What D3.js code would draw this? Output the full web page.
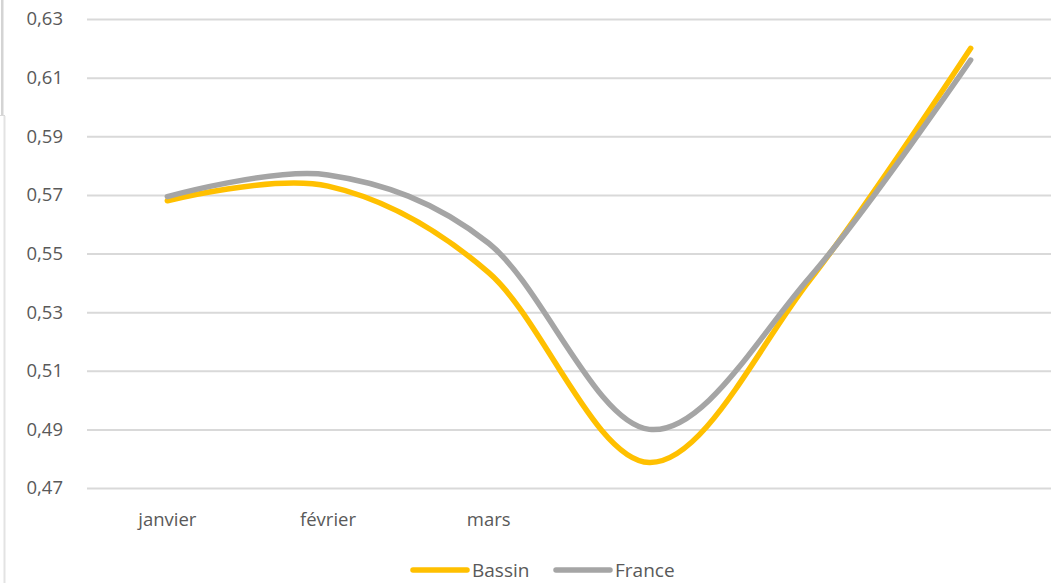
<!DOCTYPE html>
<html>
<head>
<meta charset="utf-8">
<script src="https://cdn.jsdelivr.net/npm/d3@7"></script>
<style>
  body { margin: 0; background: #fff; }
  svg { display: block; font-family: "Open Sans", sans-serif; }
  .tick text { fill: #595959; font-size: 18.5px; font-family: "Open Sans", sans-serif; }
</style>
</head>
<body>
<svg></svg>
<script>
// data
var tickLabels = ["janvier", "février", "mars", "", "", ""];
var bassin = [0.568, 0.573, 0.5435, 0.4787, 0.541, 0.620];
var france = [0.5694, 0.5768, 0.5535, 0.490, 0.542, 0.616];
var yTicks = [0.47, 0.49, 0.51, 0.53, 0.55, 0.57, 0.59, 0.61, 0.63];
var seriesNames = ["Bassin", "France"];
var seriesColors = ["#FFC000", "#A5A5A5"];

var svgWidth = 1056, svgHeight = 583;
var plotLeft = 87, plotRight = 1051, plotTop = 19, plotBottom = 488;

var svg = d3.select("svg")
    .attr("width", svgWidth)
    .attr("height", svgHeight);

// left border of the original frame
svg.append("rect").attr("x", 1).attr("y", 0).attr("width", 2.5).attr("height", 115).attr("fill", "#d4d4d4");
svg.append("line").attr("x1", 0).attr("x2", 5).attr("y1", 115.5).attr("y2", 115.5).attr("stroke", "#d9d9d9");
svg.append("line").attr("x1", 4.5).attr("x2", 4.5).attr("y1", 116).attr("y2", svgHeight).attr("stroke", "#e3e3e3").attr("stroke-width", 2);

var x = d3.scaleBand()
    .domain(d3.range(tickLabels.length))
    .range([plotLeft, plotRight])
    .padding(0);

var y = d3.scaleLinear()
    .domain([0.47, 0.63])
    .range([plotBottom, plotTop]);

var fr = d3.formatLocale({decimal: ",", thousands: " ", grouping: [3], currency: ["", "€"]});
var fmt = fr.format(".2f");

// y axis with gridlines
var yAxis = svg.append("g")
    .attr("transform", "translate(" + plotLeft + ",0)")
    .call(d3.axisLeft(y).tickValues(yTicks).tickFormat(fmt).tickSize(-(plotRight - plotLeft)).tickPadding(24));
yAxis.select(".domain").remove();
yAxis.selectAll(".tick line").attr("stroke", "#d9d9d9").attr("stroke-width", 2);

// x axis labels
var xAxis = svg.append("g")
    .attr("transform", "translate(0," + plotBottom + ")")
    .call(d3.axisBottom(x).tickFormat(function(i) { return tickLabels[i]; }).tickSize(0).tickPadding(25));
xAxis.select(".domain").remove();

var line = d3.line()
    .x(function(d, i) { return x(i) + x.bandwidth() / 2; })
    .y(function(d) { return y(d); })
    .curve(d3.curveCardinal.tension(0));

[bassin, france].forEach(function(s, k) {
    svg.append("path")
        .attr("d", line(s))
        .attr("fill", "none")
        .attr("stroke", seriesColors[k])
        .attr("stroke-width", 5.5)
        .attr("stroke-linecap", "round")
        .attr("stroke-linejoin", "round");
});

// legend
var legendX = [413, 556];
var legend = svg.append("g");
seriesNames.forEach(function(name, k) {
    legend.append("line")
        .attr("x1", legendX[k]).attr("x2", legendX[k] + 54)
        .attr("y1", 570).attr("y2", 570)
        .attr("stroke", seriesColors[k])
        .attr("stroke-width", 5.5)
        .attr("stroke-linecap", "round");
    legend.append("text")
        .attr("x", legendX[k] + 59)
        .attr("y", 577)
        .attr("fill", "#595959")
        .attr("font-size", 19)
        .text(name);
});
</script>
</body>
</html>
